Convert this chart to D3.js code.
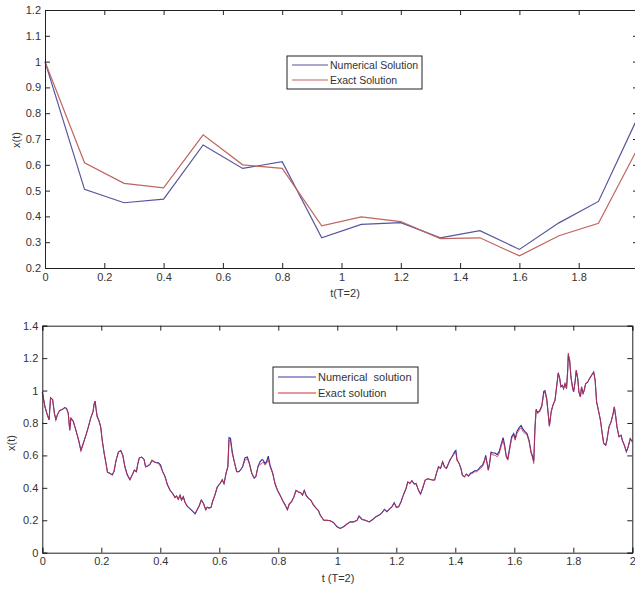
<!DOCTYPE html>
<html>
<head>
<meta charset="utf-8">
<script src="https://cdn.jsdelivr.net/npm/d3@7"></script>
<style>
  html, body { margin: 0; padding: 0; background: #fff; }
  svg { display: block; font-family: "Liberation Sans", Arial, sans-serif; }
  .tick text { fill: #333; font-size: 11px; }
  .domain, .tick line { stroke: #222; }
  .lbl { fill: #333; font-size: 11px; }
</style>
</head>
<body>
<script>
// ---- upper panel: coarse time grid, T = 2 ----
const tTop = [0, 0.1333, 0.2667, 0.4, 0.5333, 0.6667, 0.8, 0.9333, 1.0667, 1.2, 1.3333, 1.4667, 1.6, 1.7333, 1.8667, 2];
const numericalTop = [1.0, 0.505, 0.453, 0.467, 0.677, 0.586, 0.612, 0.317, 0.369, 0.376, 0.317, 0.345, 0.272, 0.375, 0.458, 0.786];
const exactTop = [1.0, 0.608, 0.528, 0.511, 0.716, 0.600, 0.586, 0.363, 0.398, 0.380, 0.314, 0.317, 0.247, 0.325, 0.373, 0.666];
const xTicksTop = [0, 0.2, 0.4, 0.6, 0.8, 1, 1.2, 1.4, 1.6, 1.8, 2];
// the tick at t = 2 sits on the clipped right border, so it carries no label
const xTickLabelsTop = ["0", "0.2", "0.4", "0.6", "0.8", "1", "1.2", "1.4", "1.6", "1.8", ""];
const yTicksTop = [0.2, 0.3, 0.4, 0.5, 0.6, 0.7, 0.8, 0.9, 1, 1.1, 1.2];
const yTickLabelsTop = ["0.2", "0.3", "0.4", "0.5", "0.6", "0.7", "0.8", "0.9", "1", "1.1", "1.2"];

// ---- lower panel: fine time grid, T = 2 ----
const tBottom = [
  0, 0.009, 0.017, 0.023, 0.028, 0.035, 0.041, 0.046, 0.051, 0.058,
  0.063, 0.069, 0.076, 0.082, 0.088, 0.093, 0.097, 0.105, 0.114, 0.123,
  0.131, 0.139, 0.148, 0.156, 0.164, 0.172, 0.176, 0.179, 0.182, 0.186,
  0.192, 0.198, 0.203, 0.210, 0.216, 0.221, 0.229, 0.237, 0.243, 0.250,
  0.258, 0.266, 0.273, 0.280, 0.288, 0.297, 0.305, 0.312, 0.319, 0.324,
  0.329, 0.337, 0.345, 0.350, 0.357, 0.365, 0.372, 0.380, 0.387, 0.394,
  0.401, 0.408, 0.416, 0.424, 0.433, 0.442, 0.450, 0.455, 0.461, 0.467,
  0.472, 0.478, 0.484, 0.492, 0.501, 0.510, 0.518, 0.525, 0.532, 0.539,
  0.546, 0.554, 0.559, 0.566, 0.572, 0.577, 0.585, 0.593, 0.602, 0.610,
  0.616, 0.623, 0.629, 0.633, 0.638, 0.644, 0.651, 0.659, 0.666, 0.672,
  0.679, 0.687, 0.695, 0.702, 0.710, 0.718, 0.724, 0.731, 0.738, 0.745,
  0.749, 0.755, 0.760, 0.766, 0.772, 0.781, 0.789, 0.797, 0.806, 0.815,
  0.823, 0.831, 0.837, 0.845, 0.853, 0.860, 0.868, 0.876, 0.882, 0.888,
  0.894, 0.902, 0.910, 0.919, 0.928, 0.936, 0.942, 0.954, 0.965, 0.976,
  0.988, 0.999, 1.010, 1.021, 1.033, 1.044, 1.055, 1.067, 1.074, 1.084,
  1.095, 1.108, 1.120, 1.131, 1.142, 1.151, 1.160, 1.168, 1.176, 1.185,
  1.193, 1.200, 1.208, 1.216, 1.225, 1.233, 1.239, 1.246, 1.253, 1.261,
  1.267, 1.275, 1.282, 1.289, 1.298, 1.307, 1.315, 1.323, 1.330, 1.336,
  1.343, 1.350, 1.357, 1.363, 1.370, 1.377, 1.383, 1.390, 1.397, 1.402,
  1.406, 1.413, 1.419, 1.424, 1.431, 1.438, 1.445, 1.451, 1.458, 1.465,
  1.472, 1.479, 1.485, 1.492, 1.499, 1.503, 1.508, 1.512, 1.517, 1.521,
  1.528, 1.535, 1.542, 1.549, 1.555, 1.562, 1.567, 1.573, 1.578, 1.585,
  1.591, 1.598, 1.603, 1.609, 1.616, 1.623, 1.630, 1.637, 1.643, 1.650,
  1.657, 1.661, 1.666, 1.670, 1.674, 1.679, 1.686, 1.693, 1.700, 1.704,
  1.710, 1.716, 1.719, 1.725, 1.731, 1.738, 1.745, 1.749, 1.754, 1.758,
  1.763, 1.767, 1.772, 1.777, 1.781, 1.783, 1.788, 1.792, 1.797, 1.801,
  1.806, 1.810, 1.815, 1.819, 1.824, 1.828, 1.833, 1.837, 1.842, 1.849,
  1.855, 1.862, 1.869, 1.874, 1.879, 1.885, 1.892, 1.898, 1.903, 1.910,
  1.914, 1.921, 1.928, 1.935, 1.939, 1.944, 1.948, 1.955, 1.962, 1.966,
  1.973, 1.980, 1.986, 1.993, 2.000
];
const exactBottom = [
  0.99, 0.90, 0.85, 0.82, 0.955, 0.945, 0.86, 0.82, 0.85, 0.875,
  0.88, 0.885, 0.895, 0.89, 0.86, 0.755, 0.83, 0.81, 0.755, 0.695,
  0.63, 0.675, 0.725, 0.775, 0.83, 0.87, 0.92, 0.935, 0.89, 0.84,
  0.815, 0.775, 0.695, 0.61, 0.55, 0.495, 0.49, 0.48, 0.50, 0.57,
  0.62, 0.63, 0.60, 0.53, 0.48, 0.45, 0.48, 0.51, 0.50, 0.55,
  0.585, 0.59, 0.575, 0.53, 0.535, 0.545, 0.57, 0.56, 0.555, 0.55,
  0.53, 0.50, 0.47, 0.42, 0.385, 0.365, 0.34, 0.35, 0.33, 0.355,
  0.325, 0.345, 0.31, 0.285, 0.27, 0.255, 0.24, 0.265, 0.29, 0.325,
  0.305, 0.265, 0.28, 0.275, 0.28, 0.315, 0.355, 0.405, 0.425, 0.45,
  0.425, 0.49, 0.53, 0.695, 0.69, 0.61, 0.56, 0.50, 0.50, 0.51,
  0.53, 0.57, 0.58, 0.55, 0.49, 0.46, 0.47, 0.53, 0.545, 0.55,
  0.56, 0.54, 0.55, 0.575, 0.53, 0.49, 0.425, 0.385, 0.355, 0.32,
  0.295, 0.265, 0.30, 0.315, 0.345, 0.385, 0.375, 0.37, 0.355, 0.385,
  0.355, 0.335, 0.325, 0.295, 0.275, 0.26, 0.232, 0.20, 0.20, 0.197,
  0.185, 0.16, 0.15, 0.16, 0.177, 0.19, 0.19, 0.20, 0.226, 0.205,
  0.20, 0.19, 0.205, 0.222, 0.232, 0.246, 0.267, 0.253, 0.267, 0.283,
  0.308, 0.28, 0.283, 0.314, 0.361, 0.396, 0.437, 0.427, 0.444, 0.423,
  0.427, 0.386, 0.361, 0.396, 0.448, 0.456, 0.452, 0.448, 0.448, 0.489,
  0.530, 0.520, 0.561, 0.530, 0.520, 0.550, 0.575, 0.595, 0.612, 0.616,
  0.571, 0.550, 0.520, 0.478, 0.468, 0.485, 0.472, 0.485, 0.489, 0.499,
  0.499, 0.509, 0.520, 0.530, 0.561, 0.591, 0.550, 0.509, 0.561, 0.612,
  0.602, 0.602, 0.591, 0.612, 0.653, 0.694, 0.653, 0.591, 0.571, 0.643,
  0.704, 0.725, 0.694, 0.735, 0.756, 0.772, 0.745, 0.735, 0.725, 0.684,
  0.612, 0.591, 0.550, 0.756, 0.879, 0.858, 0.869, 0.899, 0.982, 0.992,
  0.940, 0.838, 0.780, 0.869, 0.910, 0.940, 1.043, 1.105, 1.074, 1.023,
  1.033, 1.012, 1.043, 1.012, 1.125, 1.232, 1.187, 1.084, 1.023, 0.992,
  1.053, 1.125, 1.074, 0.992, 0.961, 1.023, 0.982, 1.002, 1.043, 1.053,
  1.074, 1.094, 1.115, 1.064, 0.930, 0.879, 0.817, 0.735, 0.674, 0.663,
  0.694, 0.776, 0.807, 0.858, 0.899, 0.838, 0.776, 0.715, 0.725, 0.694,
  0.663, 0.622, 0.653, 0.704, 0.684
];
const numericalBottom = [
  0.99, 0.90, 0.85, 0.82, 0.955, 0.945, 0.86, 0.82, 0.85, 0.875,
  0.88, 0.885, 0.895, 0.89, 0.86, 0.755, 0.83, 0.81, 0.755, 0.695,
  0.63, 0.675, 0.725, 0.775, 0.83, 0.87, 0.92, 0.935, 0.89, 0.84,
  0.815, 0.775, 0.695, 0.61, 0.55, 0.495, 0.49, 0.48, 0.50, 0.57,
  0.62, 0.63, 0.60, 0.53, 0.48, 0.45, 0.48, 0.51, 0.50, 0.55,
  0.585, 0.59, 0.575, 0.53, 0.535, 0.545, 0.57, 0.56, 0.555, 0.555,
  0.54, 0.50, 0.47, 0.42, 0.385, 0.365, 0.34, 0.35, 0.33, 0.355,
  0.325, 0.345, 0.31, 0.285, 0.27, 0.255, 0.24, 0.265, 0.29, 0.325,
  0.305, 0.265, 0.28, 0.275, 0.28, 0.315, 0.355, 0.405, 0.425, 0.45,
  0.425, 0.49, 0.53, 0.71, 0.705, 0.62, 0.56, 0.50, 0.50, 0.51,
  0.53, 0.585, 0.59, 0.55, 0.49, 0.46, 0.47, 0.53, 0.56, 0.575,
  0.57, 0.55, 0.56, 0.595, 0.54, 0.49, 0.425, 0.385, 0.355, 0.32,
  0.295, 0.265, 0.30, 0.315, 0.345, 0.385, 0.375, 0.37, 0.355, 0.385,
  0.355, 0.335, 0.325, 0.295, 0.275, 0.26, 0.232, 0.20, 0.20, 0.197,
  0.185, 0.16, 0.15, 0.16, 0.177, 0.19, 0.19, 0.20, 0.226, 0.205,
  0.20, 0.19, 0.205, 0.222, 0.232, 0.246, 0.267, 0.253, 0.267, 0.283,
  0.308, 0.28, 0.283, 0.314, 0.361, 0.396, 0.437, 0.427, 0.444, 0.423,
  0.427, 0.386, 0.361, 0.396, 0.448, 0.456, 0.452, 0.448, 0.448, 0.489,
  0.530, 0.520, 0.561, 0.530, 0.520, 0.550, 0.575, 0.595, 0.62, 0.63,
  0.571, 0.550, 0.520, 0.478, 0.468, 0.485, 0.472, 0.49, 0.495, 0.505,
  0.505, 0.515, 0.53, 0.54, 0.57, 0.60, 0.550, 0.509, 0.561, 0.62,
  0.615, 0.615, 0.605, 0.625, 0.665, 0.71, 0.665, 0.591, 0.58, 0.655,
  0.715, 0.735, 0.705, 0.748, 0.77, 0.785, 0.76, 0.745, 0.735, 0.695,
  0.62, 0.60, 0.565, 0.77, 0.885, 0.865, 0.875, 0.905, 0.995, 1.0,
  0.95, 0.838, 0.780, 0.869, 0.910, 0.940, 1.05, 1.11, 1.074, 1.023,
  1.033, 1.012, 1.043, 1.012, 1.125, 1.22, 1.175, 1.084, 1.023, 0.992,
  1.053, 1.125, 1.074, 0.992, 0.961, 1.023, 0.982, 1.002, 1.043, 1.053,
  1.074, 1.094, 1.115, 1.064, 0.930, 0.879, 0.817, 0.735, 0.674, 0.663,
  0.694, 0.776, 0.807, 0.858, 0.899, 0.838, 0.776, 0.715, 0.725, 0.694,
  0.663, 0.622, 0.653, 0.704, 0.684
];
const xTicksBottom = [0, 0.2, 0.4, 0.6, 0.8, 1, 1.2, 1.4, 1.6, 1.8, 2];
const xTickLabelsBottom = ["0", "0.2", "0.4", "0.6", "0.8", "1", "1.2", "1.4", "1.6", "1.8", "2"];
const yTicksBottom = [0, 0.2, 0.4, 0.6, 0.8, 1, 1.2, 1.4];
const yTickLabelsBottom = ["0", "0.2", "0.4", "0.6", "0.8", "1", "1.2", "1.4"];

const W = 635, H = 589;
const svg = d3.select("body").append("svg").attr("width", W).attr("height", H);

// Draws a boxed axes frame with inward ticks on all four sides
function frame(x, y, xTicks, xLabels, yTicks, yLabels) {
  const [x0, x1] = x.range();
  const [y0, y1] = y.range(); // y0 bottom, y1 top
  const g = svg.append("g");
  g.append("g").attr("transform", `translate(0,${y0})`)
    .call(d3.axisBottom(x).tickValues(xTicks).tickFormat((d, i) => xLabels[i]).tickSize(-5).tickPadding(5));
  g.append("g").attr("transform", `translate(0,${y1})`)
    .call(d3.axisTop(x).tickValues(xTicks).tickFormat("").tickSize(-5));
  g.append("g").attr("transform", `translate(${x0},0)`)
    .call(d3.axisLeft(y).tickValues(yTicks).tickFormat((d, i) => yLabels[i]).tickSize(-5).tickPadding(4));
  g.append("g").attr("transform", `translate(${x1},0)`)
    .call(d3.axisRight(y).tickValues(yTicks).tickFormat("").tickSize(-5));
  g.selectAll(".domain").attr("stroke-width", 1);
  return g;
}

function legend(bx, by, bw, bh, rows, lineLen, fontSize) {
  const g = svg.append("g");
  g.append("rect").attr("x", bx).attr("y", by).attr("width", bw).attr("height", bh)
    .attr("fill", "#fff").attr("stroke", "#222").attr("stroke-width", 1);
  rows.forEach((r) => {
    const yy = by + r.dy;
    g.append("line").attr("x1", bx + 5).attr("x2", bx + 5 + lineLen)
      .attr("y1", yy).attr("y2", yy).attr("stroke", r.color).attr("stroke-width", 1.2);
    g.append("text").attr("class", "lbl").attr("x", bx + 7 + lineLen).attr("y", yy)
      .attr("dy", "0.35em").style("font-size", fontSize + "px").style("white-space", "pre").text(r.label);
  });
}

// ---------- upper panel ----------
const xT = d3.scaleLinear().domain([0, 2]).range([45, 638]);
const yT = d3.scaleLinear().domain([0.2, 1.2]).range([268, 10]);
const lineT = d3.line().x(d => xT(d[0])).y(d => yT(d[1]));

svg.append("path").datum(tTop.map((t, i) => [t, numericalTop[i]]))
  .attr("d", lineT).attr("fill", "none").attr("stroke", "#55559c").attr("stroke-width", 1.2);
svg.append("path").datum(tTop.map((t, i) => [t, exactTop[i]]))
  .attr("d", lineT).attr("fill", "none").attr("stroke", "#c0645e").attr("stroke-width", 1.2);

frame(xT, yT, xTicksTop, xTickLabelsTop, yTicksTop, yTickLabelsTop);

svg.append("text").attr("class", "lbl").attr("x", 345).attr("y", 297).attr("text-anchor", "middle").text("t(T=2)");
svg.append("text").attr("class", "lbl").attr("transform", "translate(20,140) rotate(-90)")
  .attr("text-anchor", "middle").text("x(t)");

legend(287, 56, 135, 33, [
  { label: "Numerical Solution", color: "#55559c", dy: 9 },
  { label: "Exact Solution", color: "#c0645e", dy: 24 }
], 36, 10.5);

// ---------- lower panel ----------
const xB = d3.scaleLinear().domain([0, 2]).range([42.3, 632.3]);
const yB = d3.scaleLinear().domain([0, 1.4]).range([552.7, 325.7]);
const lineB = d3.line().x(d => xB(d[0])).y(d => yB(d[1]));

svg.append("path").datum(tBottom.map((t, i) => [t, numericalBottom[i]]))
  .attr("d", lineB).attr("fill", "none").attr("stroke", "#2a2aa8").attr("stroke-width", 1.1);
svg.append("path").datum(tBottom.map((t, i) => [t, exactBottom[i]]))
  .attr("d", lineB).attr("fill", "none").attr("stroke", "#d0303c").attr("stroke-width", 1)
  .attr("stroke-opacity", 0.8);

frame(xB, yB, xTicksBottom, xTickLabelsBottom, yTicksBottom, yTickLabelsBottom);

svg.append("text").attr("class", "lbl").attr("x", 338).attr("y", 582).attr("text-anchor", "middle")
  .style("white-space", "pre").text("t (T=2)");
svg.append("text").attr("class", "lbl").attr("transform", "translate(15,443) rotate(-90)")
  .attr("text-anchor", "middle").text("x(t)");

legend(273, 367, 145, 36, [
  { label: "Numerical  solution", color: "#3a3aa0", dy: 10 },
  { label: "Exact solution", color: "#d0303c", dy: 26 }
], 38, 11);
</script>
</body>
</html>
